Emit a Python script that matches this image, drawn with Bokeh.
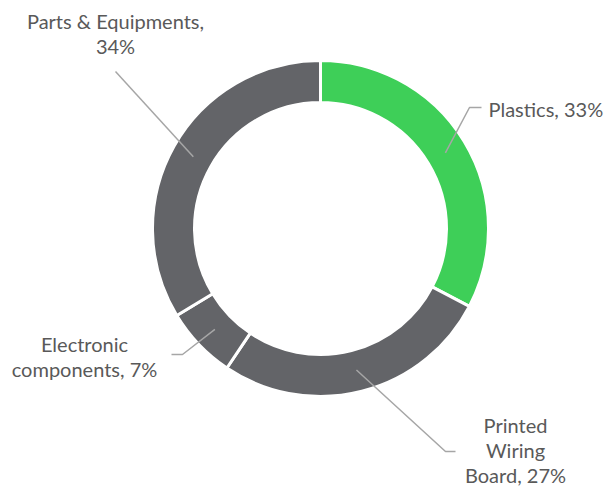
import math
from bokeh.plotting import figure
from bokeh.models import Range1d, ColumnDataSource
from bokeh.core.properties import value
from bokeh.embed import file_html
from bokeh.resources import INLINE

# ---- data ----
categories = ["Plastics", "Printed Wiring Board", "Electronic components", "Parts & Equipments"]
shares = [33, 27, 7, 34]
label_lines = [["Plastics, 33%"], ["Printed", "Wiring", "Board, 27%"],
               ["Electronic", "components, 7%"], ["Parts & Equipments,", "34%"]]
colors = ["#3ecf58", "#636468", "#636468", "#636468"]

# ---- layout (pixels relative to ring centre) ----
W, H = 610, 489
R_OUT, R_IN, R_LEAD = 167, 126, 146
TEXT_COLOR = "#595959"
LEAD_COLOR = "#a6a6a6"
FONT = "Lato"
FS = "20px"
LINE_H = 25
# label anchor: (x, y of first line, align, elbow points)
label_layout = [
    dict(x=168, y=120, align="left", elbow=[(149, 121), (161, 121)]),
    dict(x=195, y=-196, align="center", elbow=[(125, -223), (135, -223)]),
    dict(x=-236, y=-115, align="center", elbow=[(-138, -126), (-149, -126)]),
    dict(x=-205, y=208, align="center", elbow=[]),
]
leader_ends = [None, None, None, (-205, 157)]

p = figure(width=W, height=H, output_backend="svg", toolbar_location=None,
           x_range=Range1d(-320, 290), y_range=Range1d(-261, 228), min_border=0)
p.axis.visible = False
p.grid.visible = False
p.outline_line_color = None
p.background_fill_color = "white"

total = float(sum(shares))
starts, ends, mids = [], [], []
acc = 0.0
for s in shares:
    t1 = acc / total * 360.0
    t2 = (acc + s) / total * 360.0
    acc += s
    starts.append(math.radians(90 - t2))
    ends.append(math.radians(90 - t1))
    mids.append(math.radians((t1 + t2) / 2))

src = ColumnDataSource(dict(start=starts, end=ends, color=colors, cat=categories))
p.annular_wedge(x=0, y=0, inner_radius=R_IN, outer_radius=R_OUT + 1,
                start_angle="start", end_angle="end", fill_color="color",
                line_color="white", line_width=3, source=src)

for i, lay in enumerate(label_layout):
    th = mids[i]
    sx, sy = R_LEAD * math.sin(th), R_LEAD * math.cos(th)
    if lay["elbow"]:
        xs = [sx] + [e[0] for e in lay["elbow"]]
        ys = [sy] + [e[1] for e in lay["elbow"]]
    else:
        ex, ey = leader_ends[i]
        xs, ys = [sx, ex], [sy, ey]
    p.line(xs, ys, line_color=LEAD_COLOR, line_width=1.5)
    for j, ln in enumerate(label_lines[i]):
        p.text(x=[lay["x"]], y=[lay["y"] - j * LINE_H], text=[ln],
               text_align=lay["align"], text_baseline="middle",
               text_font=value(FONT), text_font_size=FS, text_color=TEXT_COLOR)

open("out.html", "w").write(file_html(p, INLINE))
